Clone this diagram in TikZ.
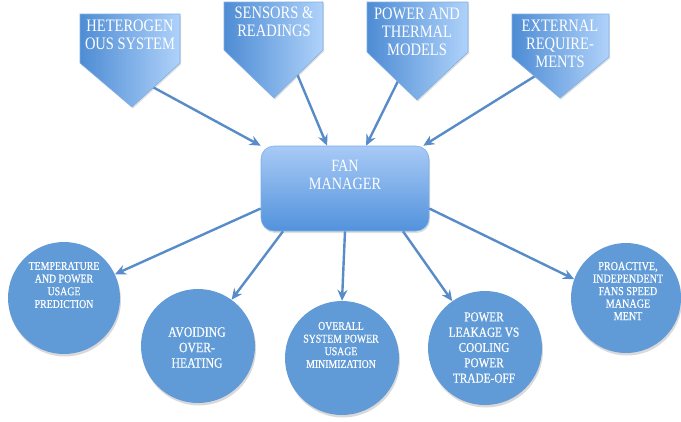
\documentclass[tikz,border=0pt]{standalone}
\usepackage{fontspec}
\setmainfont{Liberation Serif}[FakeStretch=0.83]
\newfontfamily\circfont{Liberation Serif}[FakeStretch=0.83,FakeBold=0.4]
\usetikzlibrary{arrows.meta,shadows}
\definecolor{arr}{RGB}{88,140,200}
\definecolor{circ}{RGB}{96,155,215}
\definecolor{pdark}{RGB}{78,140,212}
\definecolor{plight}{RGB}{175,210,250}
\definecolor{pedge}{RGB}{125,175,228}
\definecolor{ftop}{RGB}{168,202,246}
\definecolor{fbot}{RGB}{82,146,220}
\begin{document}
\begin{tikzpicture}[x=1pt,y=-1pt,
  conn/.style={draw=arr, line width=2.4pt, -{Stealth[length=11pt,width=10pt]}},
  penta/.style={left color=pdark, right color=plight, draw=pedge, line width=0.6pt,
    drop shadow={opacity=0.25, shadow xshift=1pt, shadow yshift=-1.5pt}},
  ptext/.style={text=white, font=\fontsize{17.5}{18}\selectfont, align=center, inner sep=0pt},
  bub/.style={circle, fill=circ, inner sep=0pt, minimum size=#1,
    drop shadow={opacity=0.3, shadow xshift=1pt, shadow yshift=-2.5pt}},
  ctext/.style={text=white, align=center, inner sep=0pt},
  fmbox/.style={rectangle, rounded corners=13pt, minimum width=168pt, minimum height=85pt,
    top color=ftop, bottom color=fbot, draw=pedge, line width=0.6pt,
    drop shadow={opacity=0.25, shadow xshift=1pt, shadow yshift=-2pt}}
]
\useasboundingbox (0,0) rectangle (681,421);
% fan manager
\node[fmbox] (fm) at (345,188.5) {};
\node[ptext, font=\fontsize{17.2}{18}\selectfont] (fmt) at (345,175) {FAN\\MANAGER};
% circles
\node[bub=112pt] (c1) at (64,298) {};
\node[bub=114pt] (c2) at (198,346) {};
\node[bub=114pt] (c3) at (342,358) {};
\node[bub=114pt] (c4) at (485,348) {};
\node[bub=110pt] (c5) at (626,298) {};
\node[ctext, font=\circfont\fontsize{11.9}{12.7}\selectfont] (t1) at (64,285) {TEMPERATURE\\AND POWER\\USAGE\\PREDICTION};
\node[ctext, font=\circfont\fontsize{14.2}{15.5}\selectfont] (t2) at (197,347.5) {AVOIDING\\OVER-\\HEATING};
\node[ctext, font=\circfont\fontsize{11.8}{12.7}\selectfont] (t3) at (341,345) {OVERALL\\SYSTEM POWER\\USAGE\\MINIMIZATION};
\node[ctext, font=\circfont\fontsize{13.6}{15.3}\selectfont] (t4) at (484,347.5) {POWER\\LEAKAGE VS\\COOLING\\POWER\\TRADE-OFF};
\node[ctext, font=\circfont\fontsize{12.2}{12.5}\selectfont] (t5) at (628,291) {PROACTIVE,\\INDEPENDENT\\FANS SPEED\\MANAGE\\MENT};
% arrow starts inside the pentagons
\coordinate (s1) at (149,85);
\coordinate (s2) at (295,69);
\coordinate (s3) at (402,73);
\coordinate (s4) at (540,73);
% incoming arrows
\draw[conn] (s1) -- (fm.north west);
\draw[conn] (s2) -- (fm);
\draw[conn] (s3) -- (fm);
\draw[conn] (s4) -- ([xshift=-6pt]fm.north east);
% outgoing arrows
\draw[conn] ([yshift=-20pt]fm.west) -- (c1.25);
\draw[conn] ([xshift=-62pt]fm.south) -- (c2.54);
\draw[conn] (fm.south) -- (c3.north);
\draw[conn] ([xshift=58pt]fm.south) -- (c4.125);
\draw[conn] ([yshift=-20pt]fm.east) -- (c5.160);
% pentagons
\path[penta] (80,14) -- (180,14) -- (180,63) -- (132,107) -- (80,63) -- cycle;
\path[penta] (224,2) -- (323,2) -- (323,50) -- (274,98) -- (224,50) -- cycle;
\path[penta] (367,2) -- (468,2) -- (468,52) -- (417,100) -- (367,52) -- cycle;
\path[penta] (512,14) -- (609,14) -- (609,57) -- (560,98) -- (512,57) -- cycle;
\node[ptext] (p1) at (130,34.5) {HETEROGEN\\OUS SYSTEM};
\node[ptext] (p2) at (274,22) {SENSORS \&\\READINGS};
\node[ptext] (p3) at (417,31.5) {POWER AND\\THERMAL\\MODELS};
\node[ptext] (p4) at (560,43.5) {EXTERNAL\\REQUIRE-\\MENTS};
\end{tikzpicture}
\end{document}
